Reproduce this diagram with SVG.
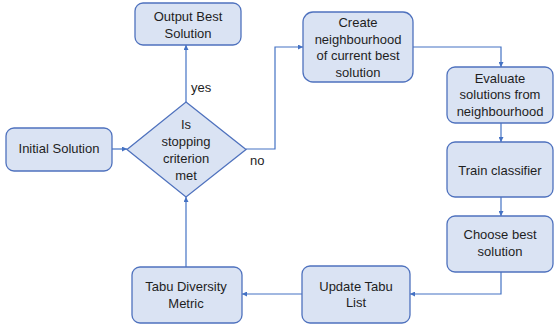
<svg xmlns="http://www.w3.org/2000/svg" width="554" height="333" viewBox="0 0 554 333">
<style>
.n{fill:#dae3f3;stroke:#4f72be;stroke-width:1.3}
.t{font-family:"Liberation Sans",Arial,sans-serif;font-size:13px;fill:#1e1e1e;text-anchor:middle}
.l{font-family:"Liberation Sans",Arial,sans-serif;font-size:13px;fill:#1e1e1e}
.c{fill:none;stroke:#4472c4;stroke-width:1.2;marker-end:url(#a)}
</style>
<defs>
<marker id="a" viewBox="0 0 6 6" refX="6" refY="3" markerWidth="5" markerHeight="5" orient="auto" markerUnits="userSpaceOnUse">
<path d="M0,0 L6,3 L0,6 z" fill="#4472c4"/>
</marker>
</defs>
<rect width="554" height="333" fill="#fff"/>
<g id="connectors">
<path class="c" d="M112,149 H127"/>
<path class="c" d="M186,102 V45"/>
<path class="c" d="M246,149 H275 V47 H303"/>
<path class="c" d="M413,47 H501 V67"/>
<path class="c" d="M501,123 V142"/>
<path class="c" d="M501,197 V216"/>
<path class="c" d="M501,272 V294 H410"/>
<path class="c" d="M302,294 H242"/>
<path class="c" d="M186,267 V197"/>
</g>
<g id="output">
<rect class="n" x="135" y="3" width="106" height="42" rx="8"/>
<text class="t" x="188" y="21">Output Best</text>
<text class="t" x="188" y="37.5">Solution</text>
</g>
<g id="initial">
<rect class="n" x="6" y="128" width="106" height="43" rx="8"/>
<text class="t" x="59" y="153">Initial Solution</text>
</g>
<g id="decision">
<polygon class="n" points="186,102 246,149.5 186,197 127,149.5"/>
<text class="t" x="186" y="129">Is</text>
<text class="t" x="186" y="146">stopping</text>
<text class="t" x="186" y="163">criterion</text>
<text class="t" x="186" y="180">met</text>
</g>
<g id="labels">
<text class="l" x="191" y="92">yes</text>
<text class="l" x="250" y="165">no</text>
</g>
<g id="create">
<rect class="n" x="303" y="12" width="110" height="70" rx="10"/>
<text class="t" x="358" y="27">Create</text>
<text class="t" x="358" y="43.5">neighbourhood</text>
<text class="t" x="358" y="60">of current best</text>
<text class="t" x="358" y="76.5">solution</text>
</g>
<g id="evaluate">
<rect class="n" x="447" y="67" width="106" height="56" rx="8"/>
<text class="t" x="500" y="83">Evaluate</text>
<text class="t" x="500" y="99">solutions from</text>
<text class="t" x="500" y="115.5">neighbourhood</text>
</g>
<g id="train">
<rect class="n" x="447" y="142" width="106" height="55" rx="8"/>
<text class="t" x="500" y="174.5">Train classifier</text>
</g>
<g id="choose">
<rect class="n" x="447" y="216" width="106" height="56" rx="8"/>
<text class="t" x="500" y="238.5">Choose best</text>
<text class="t" x="500" y="255.5">solution</text>
</g>
<g id="update">
<rect class="n" x="302" y="266" width="108" height="57" rx="8"/>
<text class="t" x="356" y="290.5">Update Tabu</text>
<text class="t" x="356" y="307">List</text>
</g>
<g id="tabu">
<rect class="n" x="132" y="267" width="110" height="56" rx="8"/>
<text class="t" x="186" y="290.5">Tabu Diversity</text>
<text class="t" x="186" y="307.5">Metric</text>
</g>
</svg>
